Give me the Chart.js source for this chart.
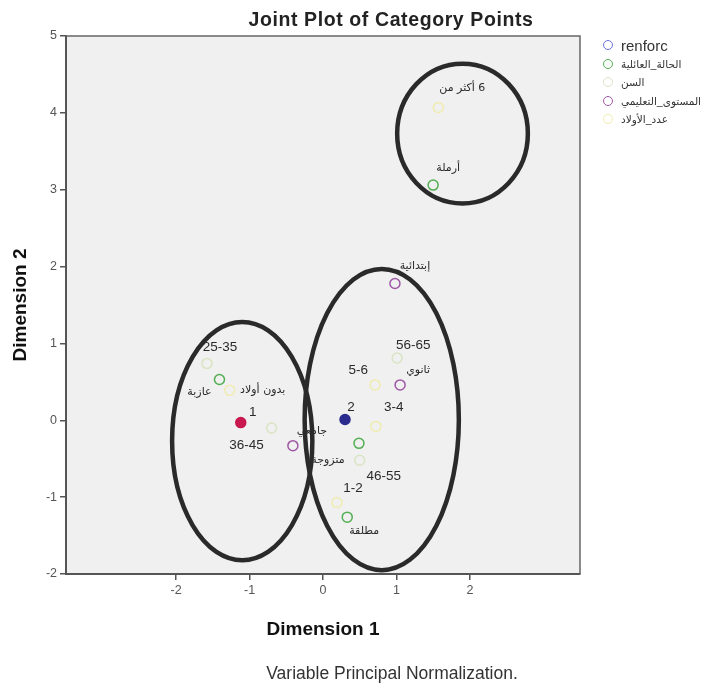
<!DOCTYPE html>
<html>
<head>
<meta charset="utf-8">
<script src="https://cdn.jsdelivr.net/npm/chart.js@4"></script>
<style>
  html, body { margin: 0; padding: 0; background: #fff; }
  #wrap { position: relative; width: 712px; height: 686px; overflow: hidden; }
  #chart { position: absolute; left: 0; top: 0; }
  #title { position: absolute; left: 141px; top: 8px; width: 500px; text-align: center; line-height: 22px;
           font: bold 19.5px "Liberation Sans", Arial, sans-serif; letter-spacing: 0.6px; color: #222; }
  #note { position: absolute; left: 142px; top: 663px; width: 500px; text-align: center; line-height: 20px;
          font: 17.5px "Liberation Sans", Arial, sans-serif; color: #333; }
  #legend { position: absolute; left: 603px; top: 36px; }
  .row { height: 18.5px; display: flex; align-items: center; white-space: nowrap; }
  .dot { width: 8px; height: 8px; border-radius: 50%; border: 1.5px solid; flex: none; }
  .txt { margin-left: 8px; color: #333; font-family: "Liberation Sans", "DejaVu Sans", sans-serif; }
</style>
</head>
<body>
<div id="wrap">
  <canvas id="chart" width="712" height="686"></canvas>
  <div id="title">Joint Plot of Category Points</div>
  <div id="legend"></div>
  <div id="note">Variable Principal Normalization.</div>
</div>
<script>
// Variable names shown in the legend
const variableNames = ['renforc', 'الحالة_العائلية', 'السن', 'المستوى_التعليمي', 'عدد_الأولاد'];

// Category points (Dimension 1, Dimension 2) for each variable
const renforcCats = ['1', '2'];
const renforcDim1 = [-1.12, 0.30];
const renforcDim2 = [-0.03, 0.01];

const maritalCats = ['أرملة', 'عازبة', 'متزوجة', 'مطلقة'];
const maritalDim1 = [1.50, -1.41, 0.49, 0.33];
const maritalDim2 = [3.06, 0.53, -0.30, -1.26];

const ageCats = ['25-35', '36-45', '46-55', '56-65'];
const ageDim1 = [-1.58, -0.70, 0.50, 1.01];
const ageDim2 = [0.74, -0.10, -0.52, 0.81];

const eduCats = ['إبتدائية', 'ثانوي', 'جامعي'];
const eduDim1 = [0.98, 1.05, -0.41];
const eduDim2 = [1.78, 0.46, -0.33];

const childCats = ['أكثر من\u200E 6', 'بدون أولاد', '5-6', '3-4', '1-2'];
const childDim1 = [1.57, -1.27, 0.71, 0.72, 0.19];
const childDim2 = [4.07, 0.39, 0.46, -0.08, -1.07];

// Axis ticks
const dim1Ticks = [-2, -1, 0, 1, 2];
const dim2Ticks = [-2, -1, 0, 1, 2, 3, 4, 5];

// Series colours
const seriesColors = ['#6e6ee0', '#52ae52', '#d9e4c2', '#9e58a4', '#f0ebae'];
const renforcFill = ['#c8184e', '#2b2b8e'];

// Where each point label sits relative to its marker (px)
const labelOffsets = {
  '1': [12, -10], '2': [6, -12],
  'أرملة': [15, -17], 'عازبة': [-20, 13], 'متزوجة': [-31, 17], 'مطلقة': [17, 14],
  '25-35': [13, -16], '36-45': [-25, 17], '46-55': [24, 16], '56-65': [16, -13],
  'إبتدائية': [20, -17], 'ثانوي': [18, -15], 'جامعي': [19, -15],
  'أكثر من\u200E 6': [24, -19], 'بدون أولاد': [33, 0], '5-6': [-17, -15], '3-4': [18, -19], '1-2': [16, -14]
};

// Hand-drawn grouping ellipses in data units: centre, radii
const groupEllipses = [
  { x: 1.90, y: 3.73, rx: 0.89, ry: 0.91 },
  { x: 0.80, y: 0.01, rx: 1.05, ry: 1.96 },
  { x: -1.10, y: -0.27, rx: 0.955, ry: 1.55 }
];

const hasArabic = s => /[\u0600-\u06FF]/.test(s);

// Legend built as HTML so Latin and Arabic names can use their own sizes
const legendEl = document.getElementById('legend');
variableNames.forEach((name, i) => {
  const row = document.createElement('div');
  row.className = 'row';
  const dot = document.createElement('span');
  dot.className = 'dot';
  dot.style.borderColor = seriesColors[i];
  const txt = document.createElement('span');
  txt.className = 'txt';
  txt.style.fontSize = hasArabic(name) ? '10.5px' : '15px';
  txt.textContent = name;
  row.appendChild(dot);
  row.appendChild(txt);
  legendEl.appendChild(row);
});

function pts(xs, ys) { return xs.map((x, i) => ({ x: x, y: ys[i] })); }

const seriesData = [
  { cats: renforcCats, xs: renforcDim1, ys: renforcDim2 },
  { cats: maritalCats, xs: maritalDim1, ys: maritalDim2 },
  { cats: ageCats, xs: ageDim1, ys: ageDim2 },
  { cats: eduCats, xs: eduDim1, ys: eduDim2 },
  { cats: childCats, xs: childDim1, ys: childDim2 }
];

const datasets = seriesData.map((s, i) => ({
  label: variableNames[i],
  categories: s.cats,
  data: pts(s.xs, s.ys),
  pointRadius: 5,
  pointBorderWidth: 1.5,
  pointBorderColor: i === 0 ? renforcFill : seriesColors[i],
  pointBackgroundColor: i === 0 ? renforcFill : 'rgba(0,0,0,0)',
  borderColor: seriesColors[i],
  backgroundColor: 'rgba(0,0,0,0)'
}));

const plotFrame = {
  id: 'plotFrame',
  beforeDraw(chart) {
    const { ctx, chartArea: a } = chart;
    ctx.save();
    ctx.fillStyle = '#f0f0f0';
    ctx.fillRect(a.left, a.top, a.right - a.left, a.bottom - a.top);
    ctx.restore();
  },
  afterDraw(chart) {
    const { ctx, chartArea: a } = chart;
    ctx.save();
    ctx.strokeStyle = '#666';
    ctx.lineWidth = 1.5;
    ctx.beginPath();
    ctx.moveTo(a.left, a.top);
    ctx.lineTo(a.right, a.top);
    ctx.lineTo(a.right, a.bottom);
    ctx.stroke();
    ctx.restore();
  }
};

const labelsAndGroups = {
  id: 'labelsAndGroups',
  afterDatasetsDraw(chart) {
    const ctx = chart.ctx;
    const xs = chart.scales.x, ys = chart.scales.y;
    ctx.save();
    ctx.fillStyle = '#2a2a2a';
    ctx.textAlign = 'center';
    ctx.textBaseline = 'middle';
    chart.data.datasets.forEach((ds, i) => {
      chart.getDatasetMeta(i).data.forEach((el, j) => {
        const name = ds.categories[j];
        const off = labelOffsets[name] || [12, -12];
        ctx.font = hasArabic(name) ? '11px "DejaVu Sans", sans-serif'
                                   : '13.5px "Liberation Sans", Arial, sans-serif';
        ctx.fillText(name, el.x + off[0], el.y + off[1]);
      });
    });
    ctx.strokeStyle = '#2a2a2a';
    ctx.lineWidth = 4.5;
    groupEllipses.forEach(e => {
      const cx = xs.getPixelForValue(e.x), cy = ys.getPixelForValue(e.y);
      const rx = Math.abs(xs.getPixelForValue(e.x + e.rx) - cx);
      const ry = Math.abs(ys.getPixelForValue(e.y + e.ry) - cy);
      ctx.beginPath();
      ctx.ellipse(cx, cy, rx, ry, 0, 0, Math.PI * 2);
      ctx.stroke();
    });
    ctx.restore();
  }
};

const tickFont = { family: '"Liberation Sans", Arial, sans-serif', size: 12.5 };
const axisTitleFont = { family: '"Liberation Sans", Arial, sans-serif', size: 19, weight: 'bold' };

new Chart(document.getElementById('chart'), {
  type: 'scatter',
  data: { datasets: datasets },
  options: {
    responsive: false,
    animation: false,
    events: [],
    layout: { padding: { top: 36, left: 6, bottom: 40, right: 132 } },
    plugins: {
      title: { display: false },
      tooltip: { enabled: false },
      legend: { display: false }
    },
    scales: {
      x: {
        type: 'linear',
        min: -3.5,
        max: 3.5,
        afterBuildTicks: s => { s.ticks = dim1Ticks.map(v => ({ value: v })); },
        afterFit: s => { s.height = 72; },
        grid: { drawOnChartArea: false, drawTicks: true, tickLength: 6, color: '#555', lineWidth: 1.5 },
        border: { display: true, color: '#555', width: 2 },
        ticks: { font: tickFont, color: '#555', padding: 3 },
        title: { display: true, text: 'Dimension 1', font: axisTitleFont, color: '#111', padding: { top: 4, bottom: 5 } }
      },
      y: {
        type: 'linear',
        min: -2,
        max: 5,
        afterBuildTicks: s => { s.ticks = dim2Ticks.map(v => ({ value: v })); },
        afterFit: s => { s.width = 60; },
        grid: { drawOnChartArea: false, drawTicks: true, tickLength: 6, color: '#555', lineWidth: 1.5 },
        border: { display: true, color: '#555', width: 2 },
        ticks: { font: tickFont, color: '#555', padding: 3 },
        title: { display: true, text: 'Dimension 2', font: axisTitleFont, color: '#111', padding: { top: 3, bottom: 3 } }
      }
    }
  },
  plugins: [plotFrame, labelsAndGroups]
});
</script>
</body>
</html>
